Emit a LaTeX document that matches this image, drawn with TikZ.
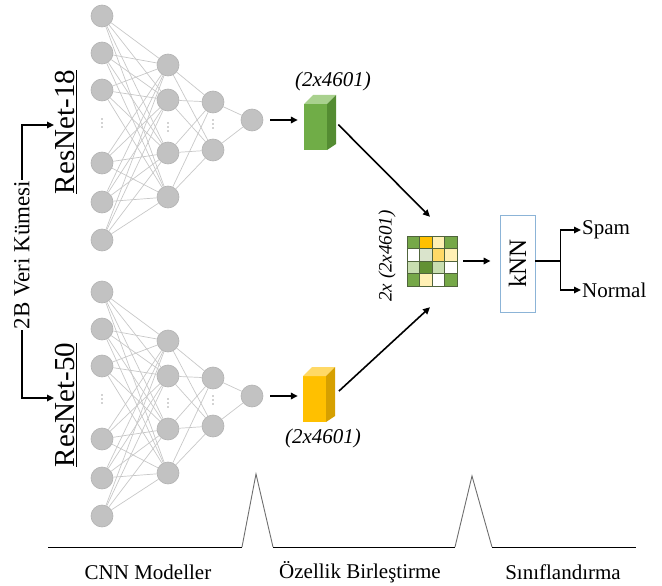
\documentclass[tikz,border=0pt]{standalone}
\usepackage{fontspec}
\setmainfont{Liberation Serif}[Ligatures=NoCommon]
\usetikzlibrary{arrows.meta,fit,calc,backgrounds}
\definecolor{nfill}{RGB}{194,194,194}
\definecolor{nborder}{RGB}{178,178,178}
\definecolor{lgray}{RGB}{200,200,200}
\definecolor{dotgray}{RGB}{165,165,165}
\definecolor{gA}{RGB}{118,168,72}
\definecolor{gD}{RGB}{98,145,52}
\definecolor{gL}{RGB}{200,222,176}
\definecolor{gG}{RGB}{218,228,204}
\definecolor{yG}{RGB}{255,192,0}
\definecolor{yM}{RGB}{255,217,102}
\definecolor{yL}{RGB}{255,240,180}
\definecolor{gridline}{RGB}{80,100,60}
\definecolor{gfront}{RGB}{112,173,71}
\definecolor{gtop}{RGB}{169,209,142}
\definecolor{gside}{RGB}{84,140,50}
\definecolor{yfront}{RGB}{255,192,0}
\definecolor{ytop}{RGB}{255,217,102}
\definecolor{yside}{RGB}{214,160,0}
\definecolor{kblue}{RGB}{140,180,215}
\definecolor{peakgray}{RGB}{110,110,110}
\begin{document}
\begin{tikzpicture}[x=1pt,y=-1pt,
  neuron/.style={circle,fill=nfill,draw=nborder,line width=0.6pt,minimum size=22pt,inner sep=0pt},
  conn/.style={draw=lgray,line width=0.7pt},
  arr/.style={-{Triangle[length=7pt,width=6.5pt]},line width=1.6pt},
  lab/.style={font=\fontsize{21}{24}\selectfont,inner sep=1pt},
  ital/.style={font=\fontsize{21}{24}\selectfont\itshape,inner sep=1pt},
  netlab/.style={rotate=90,font=\fontsize{29}{32}\selectfont,inner sep=1pt},
  cell/.style={draw=gridline,line width=0.6pt}
]
\useasboundingbox (0,0) rectangle (662,586);

% ---------- networks ----------
\foreach \n/\dy in {a/0,b/276}{
  \foreach \y [count=\i] in {16,53,90,163,202,240}
    \node[neuron] (\n-1-\i) at (102,\y+\dy) {};
  \foreach \y [count=\i] in {65,100,153,197}
    \node[neuron] (\n-2-\i) at (168,\y+\dy) {};
  \foreach \y [count=\i] in {102,150}
    \node[neuron] (\n-3-\i) at (213,\y+\dy) {};
  \node[neuron] (\n-4-1) at (252,120+\dy) {};
  \begin{pgfonlayer}{background}
    \foreach \i in {1,...,6}
      \foreach \j in {1,...,4}
        \draw[conn] (\n-1-\i) -- (\n-2-\j);
    \foreach \i in {1,...,4}
      \foreach \j in {1,2}
        \draw[conn] (\n-2-\i) -- (\n-3-\j);
    \foreach \i in {1,2}
      \draw[conn] (\n-3-\i) -- (\n-4-1);
  \end{pgfonlayer}
  \foreach \x/\y in {102/123,168/127,213/124}
    \foreach \k in {-4,0,4}
      \fill[dotgray] (\x,\y+\dy+\k) circle (0.9);
}

% ---------- labels of networks ----------
\node[netlab] (r18) at (66,132) {\underline{ResNet-18}};
\node[netlab] (r50) at (66,405) {\underline{ResNet-50}};
\node[rotate=90,font=\fontsize{23}{26}\selectfont,inner sep=1pt] (vk) at (22,255) {2B Veri Kümesi};
\draw[arr] (vk.east) |- ([yshift=7pt]r18.north);
\draw[arr] (vk.west) |- ([yshift=7pt]r50.north);

% ---------- green cube ----------
\fill[gfront] (304,104) rectangle (327,150);
\fill[gtop] (304,104) -- (313,95) -- (336,95) -- (327,104) -- cycle;
\fill[gside] (327,104) -- (336,95) -- (336,144) -- (327,150) -- cycle;
\node[fit={(304,95) (336,150)},inner sep=0pt] (gcube) {};
\node[ital] (glab) at (333,81) {(2x4601)};

% ---------- yellow cube ----------
\fill[yfront] (303,376) rectangle (326,422);
\fill[ytop] (303,376) -- (312,367) -- (335,367) -- (326,376) -- cycle;
\fill[yside] (326,376) -- (335,367) -- (335,416) -- (326,422) -- cycle;
\node[fit={(303,367) (335,422)},inner sep=0pt] (ycube) {};
\node[ital] (ylab) at (323,438) {(2x4601)};

% ---------- grid ----------
\def\cs{12.5}
\foreach \c [count=\k from 0] in {gA,yG,yL,gA, white,gG,yM,yL, gL,gD,gL,white, gA,yL,white,gA}{
  \pgfmathtruncatemacro{\r}{int(\k/4)}
  \pgfmathtruncatemacro{\col}{mod(\k,4)}
  \filldraw[cell,fill=\c] (407+\col*\cs,236+\r*\cs) rectangle ++(\cs,\cs);
}
\node[fit={(407,236) (457,286)},inner sep=0pt] (grid) {};
\node[rotate=90,font=\fontsize{19}{22}\selectfont\itshape,inner sep=1pt] (glab2) at (387,256) {2x (2x4601)};

% ---------- kNN ----------
\node[draw=kblue,line width=0.9pt,minimum width=35pt,minimum height=97pt,inner sep=0pt,
      font=\fontsize{25}{28}\selectfont] (knn) at (517.5,263.5) {\rotatebox{90}{kNN}};
\node[lab,anchor=west] (spam) at (581,230) {Spam};
\node[lab,anchor=west] (normal) at (581,290) {Normal};

% ---------- arrows ----------
\draw[arr,shorten <=7pt,shorten >=6pt] (a-4-1) -- (a-4-1 -| gcube.west);
\draw[arr,shorten <=7pt,shorten >=5pt] (b-4-1) -- (b-4-1 -| ycube.west);
\draw[arr,shorten <=3pt] (gcube.east) -- ([shift={(-2,-19)}]grid.north);
\draw[arr,shorten <=5pt] (ycube.east) -- ([shift={(-2,21)}]grid.south);
\draw[arr,shorten <=6pt,shorten >=9pt] (grid.east) -- (grid.east -| knn.west);
\draw[line width=1.6pt] (knn.east |- grid.east) -- ++(25,0) coordinate (split);
\draw[arr] (split) |- (spam.west);
\draw[arr] (split) |- (normal.west);

% ---------- bottom timeline ----------
\draw[line width=0.9pt] (48,547) -- (242,547);
\draw[peakgray,line width=0.9pt] (242,547) -- (256,474) -- (273,547);
\draw[line width=0.9pt] (273,547) -- (455,547);
\draw[peakgray,line width=0.9pt] (455,547) -- (472,476) -- (492,547);
\draw[line width=0.9pt] (492,547) -- (636,547);
\node[lab] (t1) at (148,572) {CNN Modeller};
\node[lab] (t2) at (360,572) {Özellik Birleştirme};
\node[lab] (t3) at (563,572) {Sınıflandırma};
\end{tikzpicture}
\end{document}
